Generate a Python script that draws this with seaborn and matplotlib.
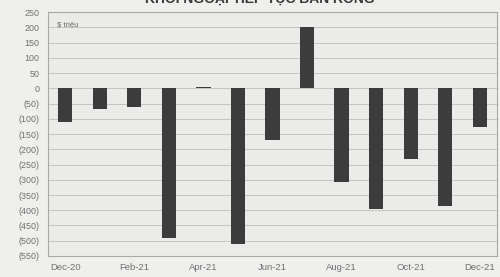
import matplotlib
matplotlib.use("Agg")
import matplotlib.pyplot as plt
from matplotlib.ticker import FuncFormatter, MultipleLocator
import seaborn as sns
import pandas as pd

# Net foreign flows by month, $ million
months = ["Dec-20", "Jan-21", "Feb-21", "Mar-21", "Apr-21", "May-21", "Jun-21",
          "Jul-21", "Aug-21", "Sep-21", "Oct-21", "Nov-21", "Dec-21"]
values = [-112, -67, -62, -492, 6, -512, -170, 203, -308, -396, -232, -385, -127]
shown_labels = ["Dec-20", "Feb-21", "Apr-21", "Jun-21", "Aug-21", "Oct-21", "Dec-21"]

df = pd.DataFrame({"month": months, "value": values})

sns.set_style("white")
plt.rcParams["font.family"] = ["Liberation Sans", "DejaVu Sans"]

fig = plt.figure(figsize=(5, 2.77), dpi=100)
fig.patch.set_facecolor("#efefed")
ax = fig.add_axes([0.096, 0.076, 0.898, 0.880])
ax.set_facecolor("#ebebea")

sns.barplot(data=df, x="month", y="value", color="#3c3c3c", width=0.41,
            saturation=1, linewidth=0, ax=ax, zorder=3)

ax.set_ylim(-550, 250)
ax.yaxis.set_major_locator(MultipleLocator(50))
ax.yaxis.set_major_formatter(FuncFormatter(
    lambda v, p: f"({abs(int(v))})" if v < 0 else f"{int(v)}"))
ax.grid(axis="y", color="#c4c4c2", linewidth=0.7, zorder=0)

ticks = [months.index(m) for m in shown_labels]
ax.set_xticks(ticks)
ax.set_xticklabels(shown_labels)
ax.set_xlim(-0.5, len(months) - 0.5)
ax.set_xlabel("")
ax.set_ylabel("")

ax.tick_params(axis="y", labelsize=6.4, labelcolor="#707070", length=2,
               color="#9a9a9a", width=0.6, pad=4)
ax.tick_params(axis="x", labelsize=6.8, labelcolor="#707070", length=0, pad=5)
for s in ax.spines.values():
    s.set_color("#a8a8a6")
    s.set_linewidth(0.8)

ax.text(0.02, 0.965, "$ triệu", transform=ax.transAxes, fontsize=5.5,
        color="#6a6a6a", va="top", ha="left")

fig.text(0.52, 1.005, "KHỐI NGOẠI TIẾP TỤC BÁN RÒNG", ha="center", va="center",
         fontsize=10, fontweight="bold", color="#3a3a3a")

fig.savefig("out.png", dpi=100, facecolor=fig.get_facecolor())
